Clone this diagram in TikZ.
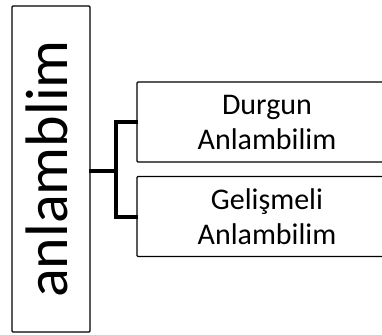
\documentclass[tikz,border=0pt]{standalone}
\usepackage{fontspec}
\setmainfont{Carlito}
\usetikzlibrary{positioning, calc}

\begin{document}
\begin{tikzpicture}[
  x=1pt, y=-1pt,
  box/.style={draw, line width=1.4pt, rounded corners=1pt, fill=white, align=center, inner sep=0pt},
  subbox/.style={box, minimum width=260pt, minimum height=80pt, font=\fontsize{30}{35}\selectfont},
  link/.style={line width=4pt, line cap=rect}
]
  \useasboundingbox (0,0) rectangle (382,334);
  \clip (0,0) rectangle (382,334);

  % root box with the rotated title
  \node[box, rotate=90, minimum width=326pt, minimum height=78pt, text depth=9pt,
        font=\fontsize{60}{70}\selectfont] (root) at (51, 169) {anlamblim};

  % the two branches
  \node[subbox] (durgun) at (267, 122) {Durgun\\Anlambilim};
  \node[subbox] (gelismeli) at (267, 216.5) {Gelişmeli\\Anlambilim};

  % bracket
  \draw[link] ([yshift=-2pt]root.south) -- ++(25,0) coordinate (fork);
  \draw[link] (durgun.west) -| (fork) |- (gelismeli.west);
\end{tikzpicture}
\end{document}
